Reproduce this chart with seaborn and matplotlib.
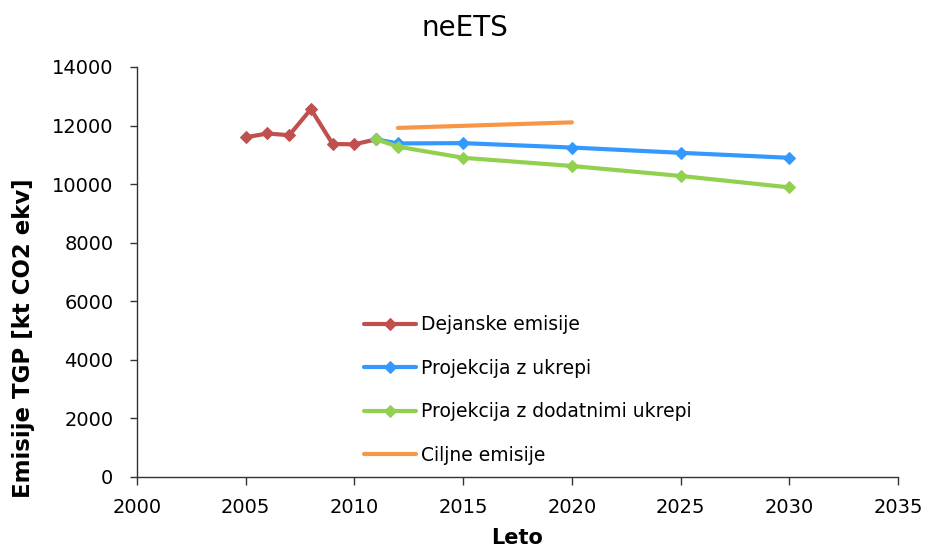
import matplotlib
matplotlib.use("Agg")
import matplotlib.pyplot as plt
import seaborn as sns
import pandas as pd

years_actual = [2005, 2006, 2007, 2008, 2009, 2010, 2011]
actual = [11600, 11730, 11670, 12560, 11370, 11360, 11530]

years_proj = [2011, 2012, 2015, 2020, 2025, 2030]
proj_wm = [11530, 11390, 11400, 11250, 11070, 10900]
proj_wam = [11530, 11280, 10900, 10620, 10280, 9890]

years_target = [2012, 2020]
target = [11920, 12110]

labels = ["Dejanske emisije", "Projekcija z ukrepi", "Projekcija z dodatnimi ukrepi", "Ciljne emisije"]
colors = ["#C0504D", "#3399FF", "#92D050", "#F79646"]

sns.set_style("white")
plt.rcParams['font.family'] = ['DejaVu Sans']
plt.rcParams['text.color'] = 'black'
plt.rcParams['axes.labelcolor'] = 'black'

fig = plt.figure(figsize=(9.29, 5.5), dpi=100)
ax = fig.add_axes([137/929, 1-477/550, (898-137)/929, (477-67)/550])

series = [(years_actual, actual, "D"), (years_proj, proj_wm, "D"), (years_proj, proj_wam, "D"), (years_target, target, None)]
for (x, y, m), lab, c in zip(series, labels, colors):
    df = pd.DataFrame({"x": x, "y": y})
    sns.lineplot(data=df, x="x", y="y", ax=ax, color=c, lw=4, marker=m, markersize=10 if m else 0,
                 markeredgecolor=c, label=lab)

ax.set_xlim(2000, 2035)
ax.set_ylim(0, 14000)
ax.set_xticks(range(2000, 2036, 5))
ax.set_yticks(range(0, 14001, 2000))
ax.tick_params(axis='x', labelsize=14, direction='out', length=6, width=1, bottom=True,
               colors='#333333', labelcolor='black', pad=9)
ax.tick_params(axis='y', labelsize=14, direction='out', length=5, width=1, left=True,
               colors='#333333', labelcolor='black', pad=12)
for s in ["top", "right"]:
    ax.spines[s].set_visible(False)
for s in ["left", "bottom"]:
    ax.spines[s].set_color("#333333")
    ax.spines[s].set_linewidth(1)
ax.set_xlabel("Leto", fontsize=15, fontweight="bold", labelpad=8)
ax.set_ylabel("Emisije TGP [kt CO2 ekv]", fontsize=16.5, fontweight="bold")
ax.yaxis.set_label_coords((35-137)/761, (477-338)/410)
fig.suptitle("neETS", fontsize=20, x=0.5, y=1-28/550, va="center")

handles, labs = ax.get_legend_handles_labels()
for h in handles:
    h.set_markersize(6)
    h.set_linewidth(3)
leg = ax.legend(handles, labs, loc="center left", bbox_to_anchor=(364/929, 1-390/550),
                bbox_transform=fig.transFigure, frameon=False, borderpad=0, borderaxespad=0,
                fontsize=13.5, labelspacing=1.3, handlelength=2.8, handletextpad=0.25)

fig.savefig("out.png", dpi=100)
